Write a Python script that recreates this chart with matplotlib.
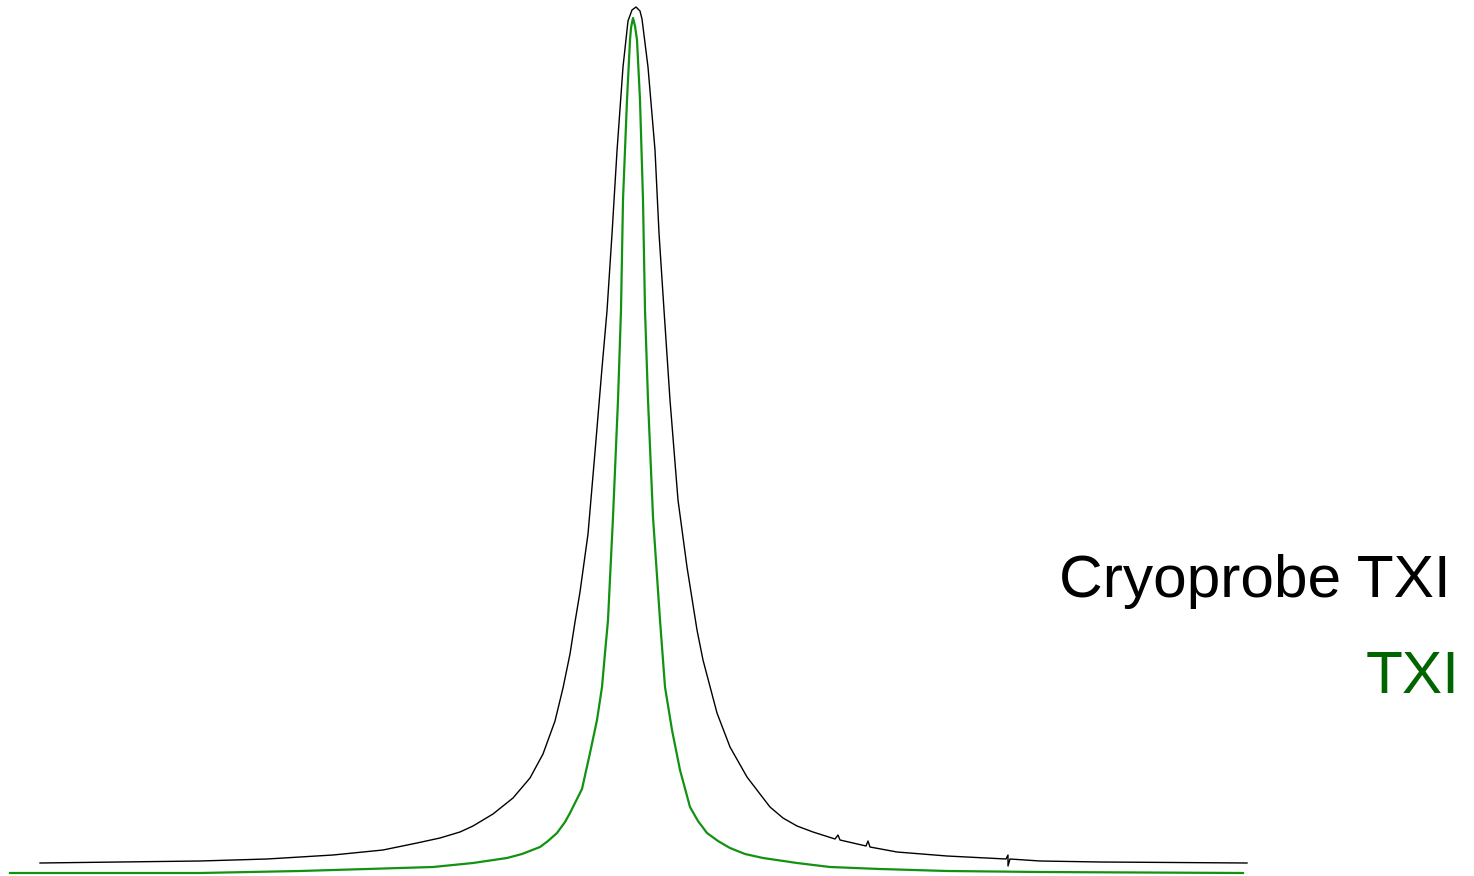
import matplotlib
matplotlib.use("Agg")
import matplotlib.pyplot as plt

# spectrum traces: position (arb. units) and intensity
cryo_x = [40, 120, 200, 267, 333, 383, 417, 440, 460, 473, 493, 513, 530, 543,
          555, 563, 570, 575, 580, 588, 595, 602, 607, 612, 617, 623, 628, 632,
          636, 640, 642, 648, 655, 659, 664, 670, 678, 687, 697, 703, 717, 730,
          747, 760, 770, 783, 797, 813, 835, 838, 840, 866, 868, 870, 897, 947,
          1006, 1008, 1008, 1010, 1040, 1100, 1247]
cryo_y = [13, 14, 15, 17, 21, 26, 33, 38, 44, 50, 62, 78, 98, 122,
          155, 188, 222, 254, 284, 342, 424, 508, 565, 642, 725, 809, 855, 866,
          869, 865, 857, 809, 726, 643, 566, 476, 376, 309, 246, 216, 163, 129,
          99, 82, 69, 58, 50, 44, 37, 41, 36, 30, 35, 29, 24, 20,
          17, 21, 10, 17, 15, 14, 13]

txi_x = [10, 200, 300, 367, 433, 473, 507, 522, 540, 548, 557, 565, 570, 582,
         590, 597, 602, 605, 608, 613, 618, 621, 623, 627, 630, 631, 633, 635,
         637, 640, 643, 645, 648, 653, 660, 665, 672, 680, 690, 698, 707, 718,
         730, 745, 763, 797, 830, 880, 947, 1040, 1243]
txi_y = [3, 3, 5, 7, 9, 13, 18, 22, 29, 35, 43, 54, 63, 87,
         123, 156, 189, 223, 256, 359, 476, 566, 676, 776, 836, 848, 858, 850,
         836, 776, 676, 566, 476, 359, 256, 189, 146, 106, 69, 55, 43, 35,
         28, 22, 18, 13, 9, 7, 5, 4, 3]

fig = plt.figure(figsize=(14.74, 8.76), dpi=100)
ax = fig.add_axes([0, 0, 1, 1])
ax.plot(cryo_x, cryo_y, color="black", lw=1.0)
ax.plot(txi_x, txi_y, color="#119211", lw=1.6)

ax.text(1451, 279, "Cryoprobe TXI", color="black", fontsize=43.5,
        family="Liberation Sans", ha="right", va="baseline")
ax.text(1460, 183, "TXI", color="#006400", fontsize=43.5,
        family="Liberation Sans", ha="right", va="baseline")

ax.set_xlim(0, 1474)
ax.set_ylim(0, 876)
ax.axis("off")
fig.savefig("out.png", dpi=100)
